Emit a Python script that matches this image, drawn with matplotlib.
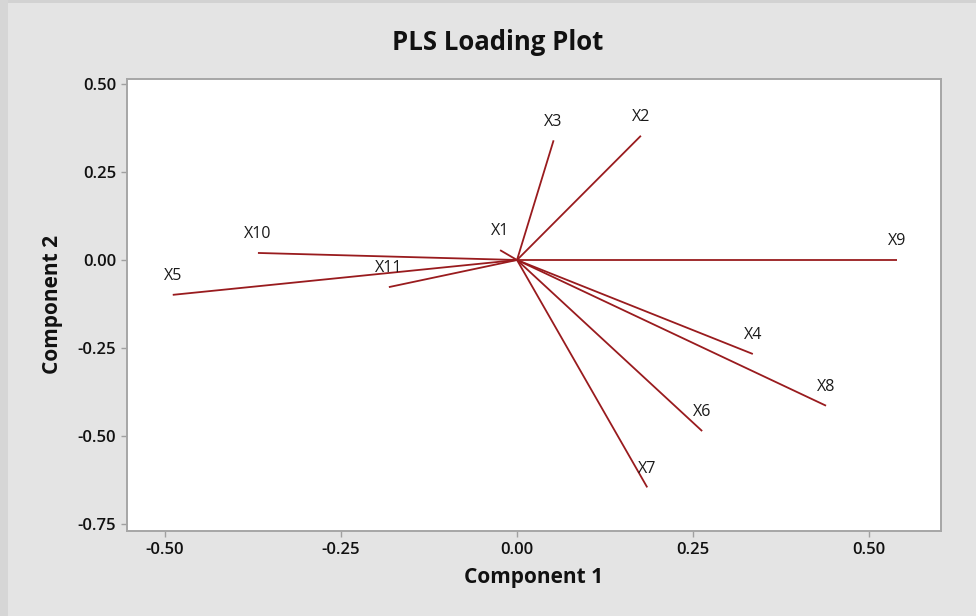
import matplotlib
matplotlib.use("Agg")
import matplotlib.pyplot as plt
from matplotlib.patches import Rectangle

variables = ["X1", "X2", "X3", "X4", "X5", "X6", "X7", "X8", "X9", "X10", "X11"]
comp1 = [-0.024, 0.176, 0.052, 0.335, -0.489, 0.263, 0.185, 0.439, 0.540, -0.368, -0.182]
comp2 = [0.028, 0.353, 0.340, -0.267, -0.099, -0.486, -0.646, -0.414, 0.000, 0.020, -0.077]
xticks = [-0.50, -0.25, 0.00, 0.25, 0.50]
yticks = [-0.75, -0.50, -0.25, 0.00, 0.25, 0.50]

plt.rcParams['font.family'] = ['Open Sans', 'DejaVu Sans']

W, H = 976, 616
fig = plt.figure(figsize=(W / 100, H / 100), dpi=100)
fig.patch.set_facecolor('#e4e4e4')
# darker strips on top and left edge
fig.patches.append(Rectangle((0, 1 - 3 / H), 1, 3 / H, transform=fig.transFigure,
                             facecolor='#d2d2d2', edgecolor='none', zorder=-10))
fig.patches.append(Rectangle((0, 0), 8 / W, 1, transform=fig.transFigure,
                             facecolor='#d6d6d6', edgecolor='none', zorder=-10))

ax = fig.add_axes([127 / W, 1 - 531 / H, (941 - 127) / W, (531 - 79) / H])
ax.set_facecolor('white')

line_color = '#991b1e'
for name, x, y in zip(variables, comp1, comp2):
    ax.plot([0, x], [0, y], color=line_color, lw=1.3, solid_capstyle='butt')
    ax.annotate(name, (x, y), xytext=(0, 13.5), textcoords='offset points',
                ha='center', va='center', fontsize=11.5, color='#1a1a1a')

ax.set_xlim(-0.554, 0.6023)
ax.set_ylim(-0.7699, 0.5142)
ax.set_xticks(xticks)
ax.set_yticks(yticks)
ax.set_xticklabels([f"{v:.2f}" for v in xticks])
ax.set_yticklabels([f"{v:.2f}" for v in yticks])
for lab in ax.get_xticklabels() + ax.get_yticklabels():
    lab.set_fontweight('semibold')
    lab.set_fontsize(12)
    lab.set_color('#111111')
ax.tick_params(axis='both', direction='out', length=4, width=1, color='#a0a0a0', pad=4)

for s in ax.spines.values():
    s.set_color('#a6a6a6')
    s.set_linewidth(1.4)

ax.set_xlabel("Component 1", fontsize=15, fontweight='bold', color='#111111')
ax.set_ylabel("Component 2", fontsize=15, fontweight='bold', color='#111111')
ax.xaxis.label.set_va('center')
ax.yaxis.label.set_va('center')
ax.xaxis.set_label_coords(0.5, ((1 - 578 / H) - (1 - 531 / H)) / ((531 - 79) / H))
ax.yaxis.set_label_coords((52 / W - 127 / W) / ((941 - 127) / W), 0.5)

fig.text(498 / W, 1 - 42 / H, "PLS Loading Plot", ha='center', va='center',
         fontsize=18.5, fontweight='bold', color='#111111')

fig.savefig("out.png", dpi=100, facecolor=fig.get_facecolor())
